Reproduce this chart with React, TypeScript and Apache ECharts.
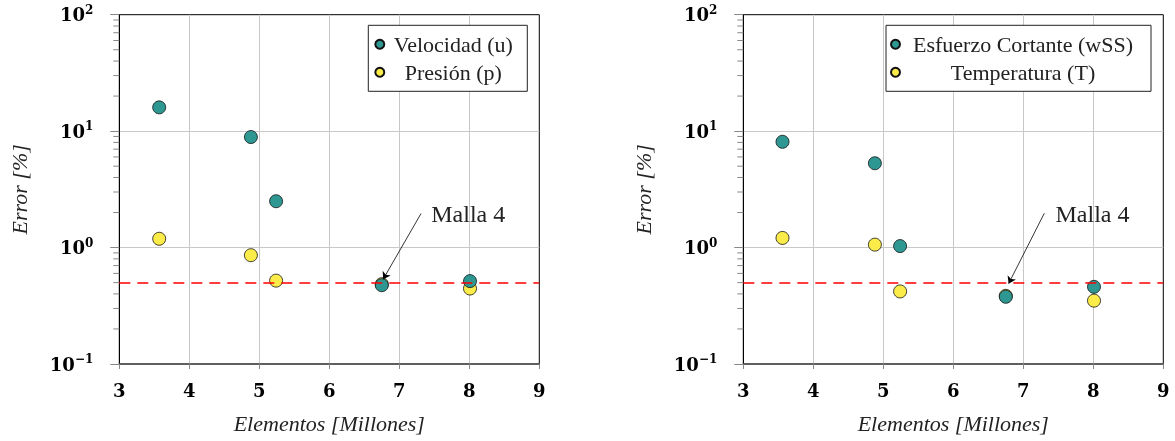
import React, { useEffect, useRef } from "react";
import * as echarts from "echarts";

const xTicks = [3, 4, 5, 6, 7, 8, 9];
const elementosL = [3.57, 4.88, 5.24, 6.75, 8.01];
const velocidad = [16.0, 8.9, 2.5, 0.475, 0.515];
const presion = [1.19, 0.86, 0.52, 0.485, 0.445];
const elementosR = [3.56, 4.88, 5.24, 6.75, 8.01];
const esfuerzo = [8.1, 5.3, 1.03, 0.378, 0.46];
const temperatura = [1.21, 1.06, 0.42, 0.385, 0.35];
const threshold = 0.5;
const minorTickValues = [0.2, 0.3, 0.4, 0.5, 0.6, 0.7, 0.8, 0.9, 2, 3, 4, 5, 6, 7, 8, 9, 20, 30, 40, 50, 60, 70, 80, 90];
const arrowL = [[7.31, 1.96], [6.77, 0.535]];
const arrowR = [[7.3, 1.97], [6.79, 0.49]];
const labelL = [7.449, 1.96];
const labelR = [7.453, 1.96];
const annotationText = "Malla 4";
const legendL = ["Velocidad (u)", "Presión (p)"];
const legendR = ["Esfuerzo Cortante (wSS)", "Temperatura (T)"];

const TEAL = "#2f9792";
const YELLOW = "#fbec4a";
const SERIF = "'Liberation Serif', 'DejaVu Serif', serif";
const BOLDSERIF = "'DejaVu Serif', 'Liberation Serif', serif";

export default function App() {
  const ref = useRef<HTMLDivElement>(null);
  useEffect(() => {
    const chart = echarts.init(ref.current!, null, { renderer: "svg" });
    const grids = [
      { left: 119.3, top: 14.7, width: 420, height: 349.3 },
      { left: 743.3, top: 14.7, width: 420, height: 349.3 },
    ];
    const xAxis = [0, 1].map((i) => ({
      type: "value",
      gridIndex: i,
      min: 3,
      max: 9,
      interval: 1,
      name: "Elementos [Millones]",
      nameLocation: "middle",
      nameGap: 48,
      nameTextStyle: { fontFamily: SERIF, fontStyle: "italic", fontSize: 22, color: "#222" },
      axisLine: { show: true, lineStyle: { color: "#555", width: 1.5 } },
      axisTick: { show: true, length: 5, lineStyle: { color: "#888" } },
      axisLabel: {
        margin: 17,
        fontFamily: BOLDSERIF,
        fontWeight: "bold",
        fontSize: 18,
        color: "#000",
        formatter: (v: number) => (xTicks.includes(v) ? String(v) : ""),
      },
      splitLine: { show: true, showMinLine: false, showMaxLine: false, lineStyle: { color: "#c8c8c8", width: 1 } },
    }));
    const yAxis = [0, 1].map((i) => ({
      type: "log",
      gridIndex: i,
      min: 0.1,
      max: 100,
      logBase: 10,
      name: "Error [%]",
      nameLocation: "middle",
      nameGap: 89,
      nameTextStyle: { fontFamily: SERIF, fontStyle: "italic", fontSize: 22, color: "#222" },
      axisLine: { show: true, lineStyle: { color: "#000", width: 1 } },
      axisTick: { show: true, length: 9, lineStyle: { color: "#888" } },
      axisLabel: {
        margin: 26,
        formatter: (v: number) => {
          const e = Math.round(Math.log10(v));
          return `{b|10}{s|${e < 0 ? "\u2212" + -e : e}}`;
        },
        rich: {
          b: { fontFamily: BOLDSERIF, fontWeight: "bold", fontSize: 18, color: "#000", lineHeight: 22 },
          s: { fontFamily: BOLDSERIF, fontWeight: "bold", fontSize: 12, color: "#000", lineHeight: 12, verticalAlign: "top" },
        },
      },
      splitLine: { show: true, showMinLine: false, showMaxLine: false, lineStyle: { color: "#c8c8c8", width: 1 } },
    }));

    const scatter = (name: string, xs: number[], ys: number[], color: string, gi: number, z: number, extra: any = {}) => ({
      type: "scatter",
      name,
      xAxisIndex: gi,
      yAxisIndex: gi,
      data: xs.map((x, k) => [x, ys[k]]),
      symbol: "circle",
      symbolSize: 13,
      z,
      itemStyle: { color, borderColor: "#111", borderWidth: 0.8, opacity: 1 },
      ...extra,
    });

    const markers = (arrow: number[][], label: number[]) => ({
      markLine: {
        silent: true,
        animation: false,
        symbol: "none",
        label: { show: false },
        lineStyle: { color: "#ff0000", type: [11, 7], width: 1.5 },
        data: [
          { yAxis: threshold },
          [
            { coord: arrow[0], symbol: "none", lineStyle: { color: "#000", type: "solid", width: 0.8 } },
            { coord: arrow[1], symbol: "arrow", symbolSize: 7 },
          ],
        ],
      },
      markPoint: {
        silent: true,
        animation: false,
        symbol: "circle",
        symbolSize: 1,
        itemStyle: { color: "rgba(0,0,0,0)" },
        label: {
          show: true,
          position: "right",
          distance: 0,
          formatter: annotationText,
          fontFamily: SERIF,
          fontSize: 24,
          color: "#222",
        },
        data: [{ coord: label }],
      },
    });

    const minorTicks = (gi: number) => ({
      type: "custom",
      xAxisIndex: gi,
      yAxisIndex: gi,
      silent: true,
      clip: false,
      data: minorTickValues.map((v) => [3, v]),
      encode: { x: 0, y: 1 },
      renderItem: (params: any, api: any) => {
        const p = api.coord([api.value(0), api.value(1)]);
        return {
          type: "line",
          shape: { x1: p[0] - 6, y1: p[1], x2: p[0], y2: p[1] },
          style: { stroke: "#888", lineWidth: 1 },
        };
      },
    });

    const legendCommon = {
      orient: "vertical",
      top: 25.3,
      itemWidth: 9,
      itemHeight: 9,
      itemGap: 6,
      icon: "circle",
      borderColor: "#222",
      borderWidth: 1,
      backgroundColor: "#fff",
      selectedMode: false,
    };

    chart.setOption({
      animation: false,
      grid: grids.map((g) => ({ ...g, show: true, borderColor: "#000", borderWidth: 1, backgroundColor: "transparent" })),
      xAxis,
      yAxis,
      legend: [
        {
          ...legendCommon,
          left: 368.3,
          padding: [8, 10, 8, 6],
          data: legendL,
          formatter: (n: string) => `{t|${n}}`,
          textStyle: {
            rich: { t: { fontFamily: SERIF, fontSize: 22, color: "#222", width: 128, align: "center", lineHeight: 24 } },
          },
        },
        {
          ...legendCommon,
          left: 886,
          padding: [8, 10, 8, 4],
          data: legendR,
          formatter: (n: string) => `{t|${n}}`,
          textStyle: {
            rich: { t: { fontFamily: SERIF, fontSize: 22, color: "#222", width: 236, align: "center", lineHeight: 24 } },
          },
        },
      ],
      series: [
        scatter(legendL[1], elementosL, presion, YELLOW, 0, 2, markers(arrowL, labelL)),
        scatter(legendL[0], elementosL, velocidad, TEAL, 0, 3),
        scatter(legendR[1], elementosR, temperatura, YELLOW, 1, 2, markers(arrowR, labelR)),
        scatter(legendR[0], elementosR, esfuerzo, TEAL, 1, 3),
        minorTicks(0),
        minorTicks(1),
      ],
    });
    return () => chart.dispose();
  }, []);
  return <div ref={ref} style={{ position: "fixed", left: 0, top: 0, width: 1175, height: 441 }} />;
}
